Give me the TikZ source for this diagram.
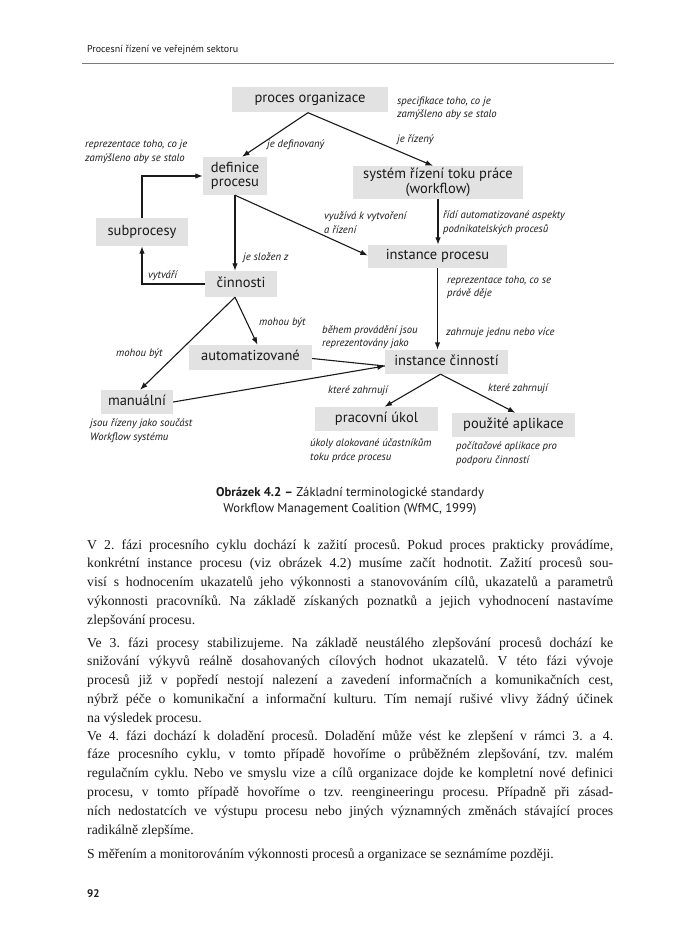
\documentclass[tikz,border=0pt]{standalone}
\usepackage{fontspec}
\setmainfont{Liberation Serif}
\newfontfamily\dsans{PT Sans}
\usetikzlibrary{arrows.meta}
\definecolor{boxgray}{HTML}{E2E2E2}
\definecolor{rulegray}{HTML}{7A7A7A}
\definecolor{ink}{HTML}{1A1A1A}
\frenchspacing
\begin{document}
\begin{tikzpicture}[x=1pt,y=-1pt,
  box/.style={fill=boxgray, font=\dsans\fontsize{14.5}{15}\selectfont, inner sep=0pt, text=ink, text height=10pt, text depth=4pt},
  boxtwo/.style={fill=boxgray, font=\dsans\fontsize{14.5}{14.5}\selectfont, inner sep=0pt, align=center, text=ink},
  lab/.style={font=\dsans\itshape\fontsize{10.7}{13.5}\selectfont, anchor=base west, align=left, inner sep=0pt, text=ink},
  arr/.style={-{Latex[length=7.5pt,width=5.5pt]}, line width=1.1pt, draw=ink},
  ln/.style={line width=1.1pt, draw=ink},
  para/.style={anchor=base west, inner sep=0pt, text width=526pt, align=justify, font=\fontsize{13.7}{18.8}\selectfont, text=ink}
]
\useasboundingbox[fill=white] (0,0) rectangle (700,944);

% header
\node[anchor=base west, inner sep=0pt, font=\dsans\fontsize{10}{12}\selectfont, text=ink] (hdr) at (87,53) {Procesní řízení ve veřejném sektoru};
\coordinate (rl) at (82,63);
\coordinate (rr) at (614,63);
\draw[rulegray, line width=0.9pt] (rl) -- (rr);

% boxes
\node[box, minimum width=156pt, minimum height=25pt] (po) at (310,100) {proces organizace};
\node[boxtwo, minimum width=64pt, minimum height=38pt] (def) at (235,176) {definice\\procesu};
\node[boxtwo, minimum width=170pt, minimum height=33pt] (sys) at (438,182.5) {systém řízení toku práce\\(workflow)};
\node[box, minimum width=92pt, minimum height=28pt] (sub) at (142,232) {subprocesy};
\node[box, minimum width=72pt, minimum height=26pt] (cin) at (241,284) {činnosti};
\node[box, minimum width=139pt, minimum height=23pt] (ip) at (437.5,256.5) {instance procesu};
\node[box, minimum width=123pt, minimum height=25pt] (aut) at (250.5,357.5) {automatizované};
\node[box, minimum width=72pt, minimum height=24pt] (man) at (137,402) {manuální};
\node[box, minimum width=123pt, minimum height=24pt] (ic) at (446.5,362) {instance činností};
\node[box, minimum width=123pt, minimum height=24pt] (pu) at (376.5,419) {pracovní úkol};
\node[box, minimum width=123pt, minimum height=24pt] (ap) at (513.5,425) {použité aplikace};

% connectors
\draw[arr] ([xshift=-2pt]po.south) -- ([xshift=7pt]def.north);
\draw[arr] ([xshift=-2pt]po.south) -- ([xshift=-5pt]sys.north);
\draw[arr] (def.south) -- (def.south |- cin.north);
\draw[arr] (def.south) -- ([yshift=1pt]ip.west);
\draw[arr] (sub.north) |- (def.west);
\draw[arr] (cin.west) -| (sub.south);
\draw[arr] (sys.south) -- (sys.south |- ip.north);
\draw[arr] (ip.south) -- (ip.south |- ic.north);
\draw[arr] ([xshift=-6pt]cin.south) -- ([xshift=3pt]man.north);
\draw[arr] ([xshift=-6pt]cin.south) -- ([xshift=7pt]aut.north);
\draw[ln] ([yshift=-1pt]aut.east) -- ([yshift=-4pt]ic.west);
\draw[arr] (man.east) -- ([yshift=-4pt]ic.west);
\draw[arr] ([xshift=-6pt]ic.south) -- ([xshift=8pt]pu.north);
\draw[arr] ([xshift=-6pt]ic.south) -- ([xshift=2pt]ap.north);

% labels (base anchor = last line)
\node[lab] (l1) at (397,118) {specifikace toho, co je\\zamýšleno aby se stalo};
\node[lab] (l2) at (397,143) {je řízený};
\node[lab] (l3) at (267,148) {je definovaný};
\node[lab] (l4) at (85,161.5) {reprezentace toho, co je\\zamýšleno aby se stalo};
\node[lab] (l5) at (324,233) {využívá k vytvoření\\a řízení};
\node[lab] (l6) at (443,232.5) {řídí automatizované aspekty\\podnikatelských procesů};
\node[lab] (l7) at (243,260) {je složen z};
\node[lab] (l8) at (148,278) {vytváří};
\node[lab] (l9) at (447,296.5) {reprezentace toho, co se\\právě děje};
\node[lab] (l10) at (259,325) {mohou být};
\node[lab] (l11) at (116,356) {mohou být};
\node[lab] (l12) at (322,346.5) {během provádění jsou\\reprezentovány jako};
\node[lab] (l13) at (446,335) {zahrnuje jednu nebo více};
\node[lab] (l14) at (328,393) {které zahrnují};
\node[lab] (l15) at (488,391) {které zahrnují};
\node[lab] (l16) at (90,440) {jsou řízeny jako součást\\Workflow systému};
\node[lab] (l17) at (310,460) {úkoly alokované účastníkům\\toku práce procesu};
\node[lab] (l18) at (456,463) {počítačové aplikace pro\\podporu činností};

% caption
\node[anchor=base, inner sep=0pt, font=\dsans\fontsize{12.7}{16}\selectfont, text=ink] (cap1) at (350,496) {\textbf{Obrázek 4.2 –} Základní terminologické standardy};
\node[anchor=base, inner sep=0pt, font=\dsans\fontsize{12.7}{16}\selectfont, text=ink] (cap2) at (350,512) {Workflow Management Coalition (WfMC, 1999)};

% body text
\node[para] (p1) at (87,549) {V 2. fázi procesního cyklu dochází k zažití procesů. Pokud proces prakticky provádíme,\linebreak konkrétní instance procesu (viz obrázek 4.2) musíme začít hodnotit. Zažití procesů sou-\linebreak visí s~hodnocením ukazatelů jeho výkonnosti a stanovováním cílů, ukazatelů a parametrů\linebreak výkonnosti pracovníků. Na základě získaných poznatků a jejich vyhodnocení nastavíme\linebreak zlepšování procesu.};
\node[para] (p2) at (87,647) {Ve 3. fázi procesy stabilizujeme. Na základě neustálého zlepšování procesů dochází ke\linebreak snižování výkyvů reálně dosahovaných cílových hodnot ukazatelů. V této fázi vývoje\linebreak procesů již v~popředí nestojí nalezení a zavedení informačních a komunikačních cest,\linebreak nýbrž péče o komunikační a informační kulturu. Tím nemají rušivé vlivy žádný účinek\linebreak na výsledek procesu.};
\node[para] (p3) at (87,740) {Ve 4. fázi dochází k doladění procesů. Doladění může vést ke zlepšení v rámci 3. a 4.\linebreak fáze procesního cyklu, v tomto případě hovoříme o průběžném zlepšování, tzv. malém\linebreak regulačním cyklu. Nebo ve smyslu vize a cílů organizace dojde ke kompletní nové definici\linebreak procesu, v tomto případě hovoříme o tzv. reengineeringu procesu. Případně při zásad-\linebreak ních nedostatcích ve výstupu procesu nebo jiných významných změnách stávající proces\linebreak radikálně zlepšíme.};
\node[para] (p4) at (87,858) {S měřením a monitorováním výkonnosti procesů a organizace se seznámíme později.};

% page number
\node[anchor=base west, inner sep=0pt, font=\dsans\bfseries\fontsize{11}{13}\selectfont, text=ink] (pg) at (87,897) {92};
\end{tikzpicture}
\end{document}
